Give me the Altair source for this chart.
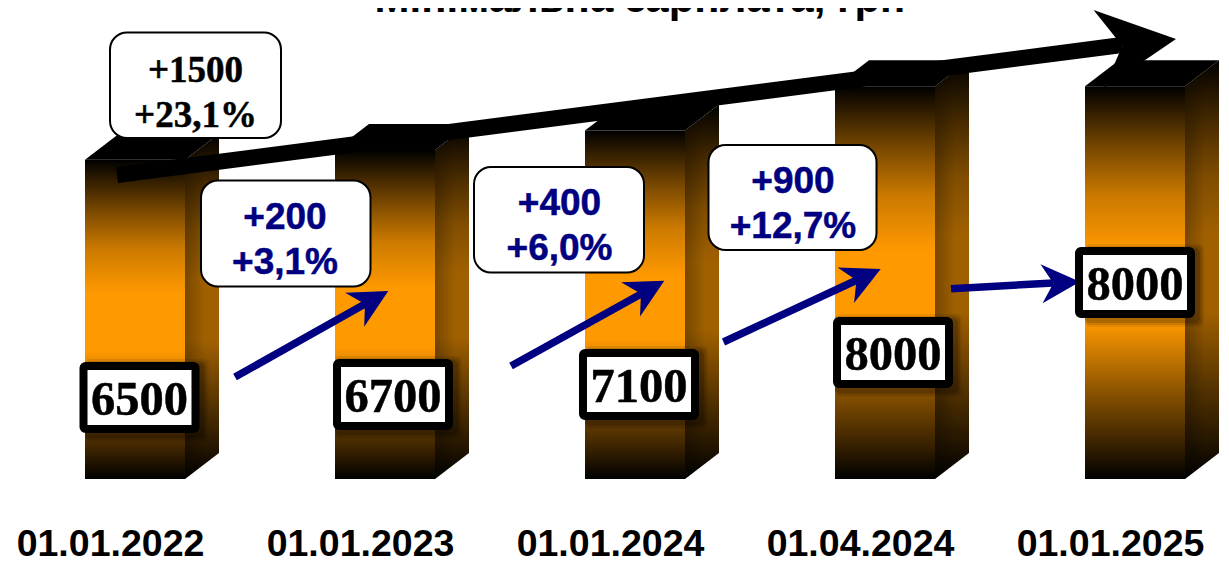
import altair as alt
import pandas as pd

# ---- chart values -------------------------------------------------------
dates = ["01.01.2022", "01.01.2023", "01.01.2024", "01.04.2024", "01.01.2025"]
wages = [6500, 6700, 7100, 8000, 8000]
title_text = "Мінімальна зарплата, грн"
change_lines = [["+200", "+3,1%"], ["+400", "+6,0%"], ["+900", "+12,7%"]]
total_lines = ["+1500", "+23,1%"]

# ---- scale set-up: bar index on x, hryvnias on y ------------------------
PX_PER_BAR = 250.0
PX_PER_UAH = 0.0491
W, H = 1213, 471
x_scale = alt.Scale(domain=[-127 / PX_PER_BAR, (W - 127) / PX_PER_BAR], nice=False, zero=False)
y_scale = alt.Scale(domain=[0, H / PX_PER_UAH], nice=False, zero=False)
x_axis = alt.Axis(values=list(range(5)), title=None, domain=False, ticks=False, grid=False,
                  labelExpr="%s[datum.value]" % str(dates),
                  labelFont="Liberation Sans", labelFontWeight="bold", labelFontSize=37.5,
                  labelColor="#000000", labelBaseline="alphabetic", labelPadding=76,
                  labelOffset=-25, labelOverlap=False, labelFlush=False, labelLimit=400)


def X(px):
    return (px - 8 - 127) / PX_PER_BAR


def Y(py):
    return (479 - py) / PX_PER_UAH


def ex(field):
    return alt.X(field, scale=x_scale, axis=x_axis)


def ey(field):
    return alt.Y(field, scale=y_scale, axis=None)


HALF = 50 / PX_PER_BAR
DX = 34 / PX_PER_BAR
DY = 26 / PX_PER_UAH


def ramp(colors):
    offsets = [0, 0.16, 0.28, 0.42, 0.6, 0.775, 0.9, 1]
    return alt.Gradient(gradient="linear", x1=0, x2=0, y1=0, y2=1,
                        stops=[alt.GradientStop(color=c, offset=o) for c, o in zip(colors, offsets)])


front_fill = ramp(["#000000", "#7A4900", "#CC7A00", "#FF9900", "#FF9900", "#8C5400", "#402600", "#000000"])
side_fill = ramp(["#000000", "#4D2E00", "#804D00", "#A06000", "#A06000", "#583500", "#281800", "#000000"])
side_shade = alt.Gradient(gradient="linear", x1=0, x2=1, y1=0, y2=0, stops=[
    alt.GradientStop(color="rgba(0,0,0,0.25)", offset=0),
    alt.GradientStop(color="rgba(0,0,0,0)", offset=0.6)])

# ---- 3-D bars -----------------------------------------------------------
bars = pd.DataFrame({"i": range(5), "v": wages})
bars["x0"] = bars.i - HALF
bars["x1"] = bars.i + HALF
front = alt.Chart(bars).mark_rect(fill=front_fill).encode(
    x=ex("x0:Q"), x2="x1:Q", y=ey("v:Q"), y2=alt.Y2(datum=0))

side_rows, top_rows = [], []
for i, v in enumerate(wages):
    side_rows += [{"bar": i, "x": i + HALF, "lo": 0, "hi": v},
                  {"bar": i, "x": i + HALF + DX, "lo": DY, "hi": v + DY}]
    top_rows += [{"bar": i, "y": v, "l": i - HALF, "r": i + HALF},
                 {"bar": i, "y": v + DY, "l": i - HALF + DX, "r": i + HALF + DX}]
side_df, top_df = pd.DataFrame(side_rows), pd.DataFrame(top_rows)
side_enc = dict(x=ex("x:Q"), y=ey("lo:Q"), y2="hi:Q", detail="bar:N")
side = alt.Chart(side_df).mark_area(fill=side_fill, opacity=1, interpolate="linear").encode(**side_enc)
shade = alt.Chart(side_df).mark_area(fill=side_shade, opacity=1, interpolate="linear").encode(**side_enc)
top = alt.Chart(top_df).mark_area(color="#000000", orient="horizontal", interpolate="linear").encode(
    y=ey("y:Q"), x=ex("l:Q"), x2="r:Q", detail="bar:N")

# ---- arrows -------------------------------------------------------------
ARROW = "M0,0 L-1.975,-1 L-1.37,0 L-1.975,1 Z"
big = dict(tail=(117, 175), neck=(1122, 45), tip=(1176, 39), angle=352.6)
blue = [dict(tail=(235, 377), neck=(365, 304), tip=(388.3, 291), angle=330.8),
        dict(tail=(511, 366), neck=(641, 294), tip=(664.3, 280.7), angle=331),
        dict(tail=(723.5, 342), neck=(857, 280), tip=(880.7, 269), angle=335),
        dict(tail=(951, 288.7), neck=(1053, 283), tip=(1080, 281.7), angle=356.9)]


def arrow_layers(spec, color, stroke, size):
    pts = pd.DataFrame({"x": [X(spec["tail"][0]), X(spec["neck"][0])],
                        "y": [Y(spec["tail"][1]), Y(spec["neck"][1])]})
    head = pd.DataFrame({"x": [X(spec["tip"][0])], "y": [Y(spec["tip"][1])]})
    enc = dict(x=ex("x:Q"), y=ey("y:Q"))
    return [alt.Chart(pts).mark_line(color=color, strokeWidth=stroke, strokeCap="butt").encode(**enc),
            alt.Chart(head).mark_point(shape=ARROW, size=size, filled=True, fill=color, opacity=1,
                                       strokeWidth=0, angle=spec["angle"]).encode(**enc)]


# ---- callouts -----------------------------------------------------------
callouts = pd.DataFrame({"l": [110, 201, 474, 708.5], "r": [281, 370.5, 644, 876.5],
                         "t": [32.5, 180.5, 167, 145], "b": [138, 286.5, 272.5, 250]})
for c in "lr":
    callouts[c] = X(callouts[c])
for c in "tb":
    callouts[c] = Y(callouts[c])
bubble = alt.Chart(callouts).mark_rect(fill="#FFFFFF", stroke="#000000", strokeWidth=2, cornerRadius=17).encode(
    x=ex("l:Q"), x2="r:Q", y=ey("t:Q"), y2="b:Q")


def text_layer(df, font, size, color, halo=0.5):
    return alt.Chart(df).mark_text(font=font, fontWeight="bold", fontSize=size, color=color,
                                   stroke=color, strokeWidth=halo,
                                   align="center", baseline="alphabetic").encode(
        x=ex("x:Q"), y=ey("y:Q"), text="t:N")


total_df = pd.DataFrame({"x": [X(195.5)] * 2, "y": [Y(81.5), Y(126.5)], "t": total_lines})
cx, base1 = [285, 559.5, 793], [229, 215, 193]
change_df = pd.DataFrame({
    "x": [X(c) for c in cx for _ in range(2)],
    "y": [Y(b + d) for b in base1 for d in (0, 45)],
    "t": [s for pair in change_lines for s in pair]})

# ---- value boxes --------------------------------------------------------
box_l = [83.5, 337, 583, 837, 1079]
box_t = [366, 363, 353, 321, 251]
BOX_W, BOX_H = 112, 63
boxes = pd.DataFrame({"l": [X(p) for p in box_l], "r": [X(p + BOX_W) for p in box_l],
                      "t": [Y(p) for p in box_t], "b": [Y(p + BOX_H) for p in box_t]})
box = alt.Chart(boxes).mark_rect(fill="#FFFFFF", stroke="#000000", strokeWidth=8, cornerRadius=2).encode(
    x=ex("l:Q"), x2="r:Q", y=ey("t:Q"), y2="b:Q")
box_df = pd.DataFrame({"x": [X(p + BOX_W / 2) for p in box_l],
                       "y": [Y(p + 49) for p in box_t],
                       "t": [str(v) for v in wages]})

# soft shadow of each box, kept on the bar it falls on
shadow_layers = []
for grow, alpha in [(10, 0.08), (8, 0.12), (6, 0.16)]:
    rows = []
    for i, (l, t) in enumerate(zip(box_l, box_t)):
        rows.append({"l": max(X(l + 3 - grow), i - HALF),
                     "r": min(X(l + BOX_W + 3 + grow), i + HALF + DX),
                     "t": Y(t + 3 - grow), "b": Y(t + BOX_H + 3 + grow)})
    shadow_layers.append(alt.Chart(pd.DataFrame(rows)).mark_rect(color="#000000", opacity=alpha, cornerRadius=5).encode(
        x=ex("l:Q"), x2="r:Q", y=ey("t:Q"), y2="b:Q"))

title = alt.Chart(pd.DataFrame({"t": [title_text]})).mark_text(
    font="Liberation Sans", fontWeight="bold", fontSize=42, color="#000000",
    align="center", baseline="alphabetic", clip=False).encode(
    x=alt.value(632), y=alt.value(3.5), text="t:N")

layers = [front, side, shade, top]
layers += arrow_layers(big, "#000000", 16, 6241)
layers += shadow_layers
for spec in blue:
    layers += arrow_layers(spec, "#000080", 7.5, 1521)
layers += [bubble, text_layer(total_df, "Liberation Serif", 37, "#000000"),
           text_layer(change_df, "Liberation Sans", 37, "#000080"),
           box, text_layer(box_df, "Liberation Serif", 48.5, "#000000"), title]

chart = alt.layer(*layers).properties(
    width=W, height=H,
    padding={"left": 0, "top": 0, "right": 0, "bottom": 84},
    autosize=alt.AutoSizeParams(type="none"),
    background="#FFFFFF",
).configure_view(stroke=None)

chart.save("out.html", embed_options={"renderer": "svg", "actions": False})
